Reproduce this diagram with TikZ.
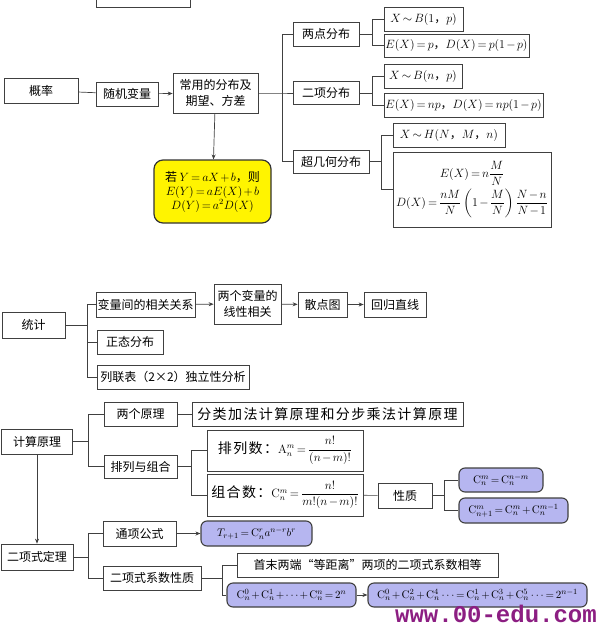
\documentclass[tikz,border=0pt]{standalone}
\usepackage{amsmath}
\usepackage[no-math]{fontspec}
\setmainfont{Noto Sans CJK SC}
\newfontfamily\webfont{Liberation Mono}
\newfontfamily\widecjk[LetterSpace=10]{Noto Sans CJK SC}
\usetikzlibrary{arrows.meta}
\definecolor{boxline}{HTML}{404040}
\definecolor{lavender}{RGB}{182,182,240}
\definecolor{lemon}{RGB}{255,244,0}
\definecolor{wmark}{RGB}{140,30,130}
\thickmuskip=3mu plus 1mu
\medmuskip=2mu plus 1mu

\begin{document}
\begin{tikzpicture}[x=1pt, y=-1pt,
    >={Stealth[length=5pt,width=4pt]},
    box/.style={draw=boxline, line width=0.7pt, inner sep=1pt, minimum height=24pt,
        font=\fontsize{12}{16}\selectfont, align=center},
    ybox/.style={box, draw=black!80, line width=1.2pt, fill=lemon, rounded corners=9pt},
    pbox/.style={box, draw=black!75, line width=1.1pt, fill=lavender, rounded corners=6pt,
        font=\fontsize{11}{13}\selectfont},
    wire/.style={draw=boxline, line width=0.7pt}
]
\useasboundingbox (0,0) rectangle (600,630);

% probability
\node[box, minimum width=94pt, minimum height=26pt] (topbox) at (143,-6) {};
\node[box, minimum width=74pt, minimum height=25pt] (gl) at (41,90.5) {概率};
\node[box, minimum width=62pt] (sjbl) at (127,94) {随机变量};
\node[box, minimum width=85pt, minimum height=40pt] (cyfb) at (215.5,93) {常用的分布及\\期望、方差};
\node[ybox, minimum width=117pt, minimum height=63pt] (yb) at (212.5,191.5)
    {若 $Y=aX+b$，则\\[-2pt]$E(Y)=aE(X)+b$\\[-2pt]$D(Y)=a^2D(X)$};
\node[box, minimum width=66pt] (ldfb) at (326,34) {两点分布};
\node[box, minimum width=66pt, minimum height=23pt] (exfb) at (326,93) {二项分布};
\node[box, minimum width=76pt, minimum height=23pt] (cjh) at (331,161.5) {超几何分布};
\node[box, minimum width=79pt] (b1) at (423.5,19) {$X\sim B(1$，$p)$};
\node[box, minimum width=145pt, minimum height=23pt] (b1e) at (456.5,45.5) {$E(X)=p$，$D(X)=p(1-p)$};
\node[box, minimum width=78pt] (bn) at (423,76) {$X\sim B(n$，$p)$};
\node[box, minimum width=159pt] (bne) at (463.5,105) {$E(X)=np$，$D(X)=np(1-p)$};
\node[box, minimum width=112pt] (hg) at (449,135) {$X\sim H(N$，$M$，$n)$};
\node[box, minimum width=158pt, minimum height=75pt] (hge) at (472,189.5)
    {$E(X)=n\dfrac{M}{N}$\\[2pt]$D(X)=\dfrac{nM}{N}\left(1-\dfrac{M}{N}\right)\dfrac{N-n}{N-1}$};

\draw[wire] (gl) -- (sjbl);
\draw[wire,->] (sjbl) -- (cyfb);
\draw[wire,->] (cyfb) -- (yb);
\coordinate (gbus) at (282,93);
\draw[wire] (cyfb) -- (gbus) -- (exfb);
\draw[wire] (gbus) |- (ldfb);
\draw[wire] (gbus) |- (cjh);
\coordinate (ldbus) at (372,34);
\draw[wire] (ldfb) -- (ldbus);
\draw[wire] (ldbus) |- (b1);
\draw[wire] (ldbus) |- (b1e);
\coordinate (exbus) at (372,93);
\draw[wire] (exfb) -- (exbus);
\draw[wire] (exbus) |- (bn);
\draw[wire] (exbus) |- (bne);
\coordinate (cjbus) at (381,161.5);
\draw[wire] (cjh) -- (cjbus);
\draw[wire] (cjbus) |- (hg);
\draw[wire] (cjbus) |- (hge);

% statistics
\node[box, minimum width=63pt, minimum height=26pt] (tj) at (33.5,325) {统计};
\node[box, minimum width=99pt, minimum height=25pt] (xgx) at (145.5,304.5) {变量间的相关关系};
\node[box, minimum width=67pt, minimum height=40pt] (xxxg) at (247.5,304) {两个变量的\\线性相关};
\node[box, minimum width=49pt, minimum height=25pt] (sdt) at (322.5,304.5) {散点图};
\node[box, minimum width=62pt, minimum height=25pt] (hgzx) at (395,304.5) {回归直线};
\node[box, minimum width=66pt] (ztfb) at (130,342) {正态分布};
\node[box, minimum width=152pt] (lbb) at (173,377) {列联表（2×2）独立性分析};

\coordinate (tbus) at (87,325);
\draw[wire] (tj) -- (tbus);
\draw[wire] (tbus) |- (xgx);
\draw[wire] (tbus) |- (ztfb);
\draw[wire] (tbus) |- (lbb);
\draw[wire,->] (xgx) -- (xxxg);
\draw[wire,->] (xxxg) -- (sdt);
\draw[wire,->] (sdt) -- (hgzx);

% counting
\node[box, minimum width=71pt, minimum height=25pt] (jsyl) at (37,441.5) {计算原理};
\node[box, minimum width=73pt] (lgyl) at (140.5,414) {两个原理};
\node[box, minimum width=271pt, font=\widecjk\fontsize{14}{16}\selectfont] (flfb) at (327.5,414)
    {分类加法计算原理和分步乘法计算原理};
\node[box, minimum width=73pt, minimum height=23pt] (plzh) at (140.5,466.5) {排列与组合};
\node[box, minimum width=156pt, minimum height=41pt] (pls) at (285,450.5)
    {{\widecjk\fontsize{14}{16}\selectfont 排列数：}$\mathrm{A}_n^m=\dfrac{n!}{(n-m)!}$};
\node[box, minimum width=156pt, minimum height=42pt] (zhs) at (285,495)
    {{\widecjk\fontsize{14}{16}\selectfont 组合数：}$\mathrm{C}_n^m=\dfrac{n!}{m!(n-m)!}$};
\node[box, minimum width=54pt, minimum height=25pt] (xz) at (405,495.5) {性质};
\node[pbox, minimum width=84pt] (cp1) at (501,480) {$\mathrm{C}_n^m=\mathrm{C}_n^{n-m}$};
\node[pbox, minimum width=109pt, minimum height=25pt] (cp2) at (513.5,510.5)
    {$\mathrm{C}_{n+1}^m=\mathrm{C}_n^m+\mathrm{C}_n^{m-1}$};

\coordinate (jbus) at (88,441.5);
\draw[wire] (jsyl) -- (jbus);
\draw[wire] (jbus) |- (lgyl);
\draw[wire] (jbus) |- (plzh);
\draw[wire] (lgyl) -- (flfb);
\coordinate (pbus) at (191,466.5);
\draw[wire] (plzh) -- (pbus);
\draw[wire] (pbus) |- (pls);
\draw[wire] (pbus) |- (zhs);
\draw[wire] (zhs) -- (xz);
\coordinate (xbus) at (444,495.5);
\draw[wire] (xz) -- (xbus);
\draw[wire] (xbus) |- (cp1);
\draw[wire] (xbus) |- (cp2);

% binomial theorem
\node[box, minimum width=72pt, minimum height=26pt] (ecsdl) at (37,557) {二项式定理};
\node[box, minimum width=73pt, minimum height=25pt] (txgs) at (139.5,533.5) {通项公式};
\node[pbox, minimum width=111pt, minimum height=25pt] (tgs) at (256.5,533.5)
    {$T_{r+1}=\mathrm{C}_n^r a^{n-r}b^r$};
\node[box, minimum width=98pt] (xsxz) at (152,578) {二项式系数性质};
\node[box, minimum width=261pt] (smld) at (367.5,565) {首末两端“等距离”两项的二项式系数相等};
\node[pbox, minimum width=129pt] (sum1) at (291.5,595)
    {$\mathrm{C}_n^0+\mathrm{C}_n^1+\cdots+\mathrm{C}_n^n=2^n$};
\node[pbox, minimum width=219pt] (sum2) at (477.5,595)
    {$\mathrm{C}_n^0+\mathrm{C}_n^2+\mathrm{C}_n^4\cdots=\mathrm{C}_n^1+\mathrm{C}_n^3+\mathrm{C}_n^5\cdots=2^{n-1}$};

\draw[wire,->] (jsyl) -- (ecsdl);
\coordinate (ebus) at (88,557);
\draw[wire] (ecsdl) -- (ebus);
\draw[wire] (ebus) |- (txgs);
\draw[wire] (ebus) |- (xsxz);
\draw[wire,->] (txgs) -- (tgs);
\coordinate (sbus) at (222,578);
\draw[wire] (xsxz) -- (sbus);
\draw[wire] (sbus) |- (smld);
\draw[wire] (sbus) |- (sum1);
\draw[wire,->] (sum1) -- (sum2);

\node[font=\webfont\bfseries\fontsize{24}{24}\selectfont, text=wmark, inner sep=0pt] (web) at (496,614) {www.00-edu.com};
\end{tikzpicture}
\end{document}
